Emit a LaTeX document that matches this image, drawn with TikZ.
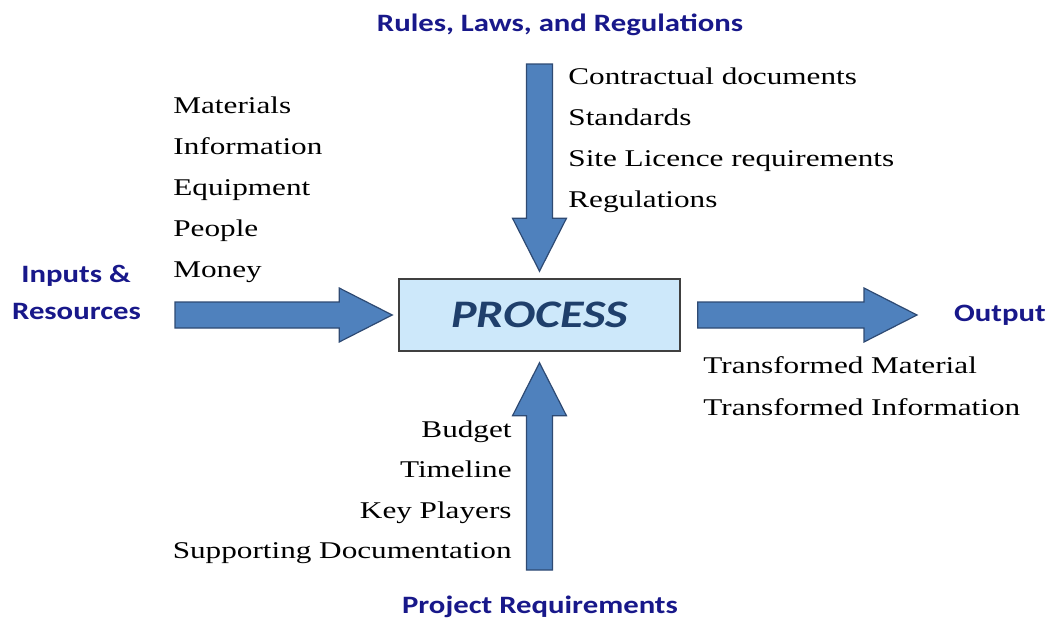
\documentclass[tikz,border=0pt]{standalone}
\usepackage{fontspec}
\setmainfont[FakeStretch=1.3]{Liberation Serif}
\newfontfamily\labelfont[FakeStretch=1.23]{Carlito}
\usetikzlibrary{calc}

\definecolor{arrowblue}{HTML}{4F81BD}
\definecolor{arrowedge}{HTML}{2E4A73}
\definecolor{boxfill}{HTML}{CDE8FA}
\definecolor{labelblue}{HTML}{18188A}
\definecolor{processblue}{HTML}{1F3F6B}

\tikzset{
  listitem/.style={inner sep=0pt, font=\fontsize{12}{14}\selectfont},
  sidelabel/.style={inner sep=0pt, text=labelblue, font=\labelfont\bfseries\fontsize{12.5}{15}\selectfont},
  processbox/.style={draw=black!75, line width=0.8pt, fill=boxfill, minimum width=140.5pt, minimum height=36pt,
    text=processblue, font=\labelfont\bfseries\itshape\fontsize{19.5}{22}\selectfont},
  blockarrow/.style={fill=arrowblue, draw=arrowedge, line width=0.6pt, line join=miter},
}

% block arrow from tail #1 to tip #2
\newcommand{\blockarrow}[2]{%
  \coordinate (hb) at ($(#2)!26.5pt!(#1)$);
  \draw[blockarrow] ($(#1)!6.5pt!90:(#2)$) -- ($(hb)!6.5pt!90:(#2)$) -- ($(hb)!13.5pt!90:(#2)$)
    -- (#2) -- ($(hb)!13.5pt!-90:(#2)$) -- ($(hb)!6.5pt!-90:(#2)$) -- ($(#1)!6.5pt!-90:(#2)$) -- cycle;}

\begin{document}
\begin{tikzpicture}[x=0.5pt,y=-0.5pt]
\useasboundingbox (0,0) rectangle (1051,621);

% the process
\node[processbox] (box) at (539.5,315) {PROCESS};

% arrow ends
\coordinate (in-tail) at (175,315);
\coordinate (in-tip) at ($(box.west)+(-6,0)$);
\coordinate (out-tail) at ($(box.east)+(17,0)$);
\coordinate (out-tip) at (917,315);
\coordinate (rules-tail) at (539.5,64);
\coordinate (rules-tip) at ($(box.north)+(0,-7)$);
\coordinate (req-tail) at (539.5,570);
\coordinate (req-tip) at ($(box.south)+(0,11)$);

\blockarrow{in-tail}{in-tip}
\blockarrow{out-tail}{out-tip}
\blockarrow{rules-tail}{rules-tip}
\blockarrow{req-tail}{req-tip}

% headings
\node[sidelabel, anchor=base] (rules) at (560,32) {Rules, Laws, and Regulations};
\node[sidelabel, anchor=base] (inputs) at (76,282) {Inputs \&};
\node[sidelabel, anchor=base] (resources) at (76.5,319) {Resources};
\node[sidelabel, anchor=base] (output) at (1000,321) {Output};
\node[sidelabel, anchor=base] (req) at (540,613) {Project Requirements};

% lists
\foreach \t [count=\i] in {Materials,Information,Equipment,People,Money}
  \node[listitem, anchor=base west] (in\i) at (173,{72+41*\i}) {\t};
\foreach \t [count=\i] in {Contractual documents,Standards,Site Licence requirements,Regulations}
  \node[listitem, anchor=base west] (rule\i) at (568,{43+41*\i}) {\t};
\foreach \t [count=\i] in {Budget,Timeline,Key Players,Supporting Documentation}
  \node[listitem, anchor=base east] (req\i) at (512,{396.5+40.5*\i}) {\t};
\foreach \t [count=\i] in {Transformed Material,Transformed Information}
  \node[listitem, anchor=base west] (out\i) at (703,{331+42*\i}) {\t};
\end{tikzpicture}
\end{document}
